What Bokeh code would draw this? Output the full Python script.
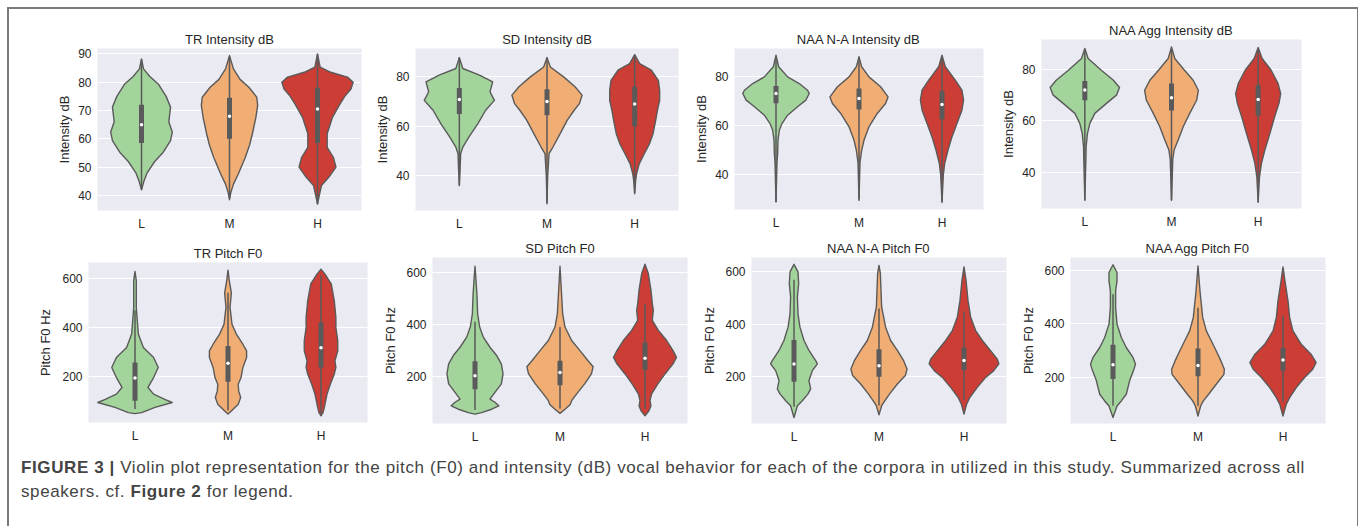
from bokeh.plotting import figure
from bokeh.layouts import row, column
from bokeh.models import Range1d, FixedTicker, Div, Spacer
from bokeh.embed import file_html
from bokeh.resources import INLINE

CATS = ["L", "M", "H"]
COLORS = ["#a2d49c", "#f0ad74", "#cc3d35"]

# ---- TR Intensity dB ----
tr_int_L_val = [42, 45, 48, 52, 55, 59.4, 62.4, 66, 71.2, 75, 79.4, 82, 84.7, 88.2]
tr_int_L_hw = [0, .027, .064, .15, .24, .33, .35, .31, .33, .28, .19, .095, .023, 0]
tr_int_M_val = [38.5, 41, 44, 47.6, 53.5, 58, 61.8, 67.6, 71.8, 74.7, 78.2, 81, 84.7, 89.4]
tr_int_M_hw = [0, .015, .045, .10, .18, .23, .26, .30, .32, .31, .22, .12, .045, 0]
tr_int_H_val = [37, 40, 43.5, 46.5, 50, 53.5, 57, 61.8, 67.6, 72, 75, 77.6, 80, 81.8, 83.5, 85.3, 90]
tr_int_H_hw = [0, .02, .045, .13, .21, .18, .11, .11, .17, .25, .31, .38, .405, .34, .15, .03, 0]
tr_int_box = [[42, 58.5, 65, 72, 88], [39, 60, 68, 74.5, 89], [37, 58.5, 70.5, 78, 90]]

# ---- SD Intensity dB ----
sd_int_L_val = [36, 42, 48.9, 51.6, 55.7, 61, 66.5, 70.5, 74, 78, 80.7, 83.4, 87.8]
sd_int_L_hw = [0, .008, .015, .04, .11, .21, .30, .40, .35, .38, .23, .04, 0]
sd_int_M_val = [28.6, 40, 48.9, 51.6, 57, 62.4, 66.5, 69.2, 72.6, 76, 80, 84, 87.8]
sd_int_M_hw = [0, .008, .023, .068, .15, .23, .31, .37, .40, .32, .19, .038, 0]
sd_int_H_val = [32.7, 38, 41, 44.9, 48.9, 53, 57, 62.4, 66.5, 70.5, 74.6, 78.6, 82.7, 85.4, 89]
sd_int_H_hw = [0, .011, .023, .053, .11, .17, .21, .24, .26, .285, .285, .27, .19, .057, 0]
sd_int_box = [[36, 65, 70.8, 75.5, 88], [29, 64.5, 70, 75, 88], [33, 60, 69, 76, 89]]

# ---- NAA N-A Intensity dB ----
na_int_L_val = [29, 45, 48.6, 54, 58.1, 60.8, 64.2, 67.6, 70.3, 73, 74.3, 77, 79.7, 83.8, 88.5]
na_int_L_hw = [0, .012, .02, .024, .04, .072, .14, .26, .36, .40, .38, .28, .14, .032, 0]
na_int_M_val = [29.7, 45, 50, 54, 59.5, 64.9, 68.9, 71.6, 75.7, 79.7, 83.8, 87.8]
na_int_M_hw = [0, .012, .032, .06, .12, .22, .32, .35, .26, .12, .032, 0]
na_int_H_val = [28.8, 40, 44.6, 50, 55.4, 60.8, 66.2, 70.3, 74.3, 78.4, 83.8, 88.5]
na_int_H_hw = [0, .016, .032, .072, .12, .18, .24, .26, .24, .16, .04, 0]
na_int_box = [[29, 69, 73, 76, 88], [30, 66.5, 71, 75, 88], [29, 62.5, 68.5, 74, 88]]

# ---- NAA Agg Intensity dB ----
ag_int_L_val = [29, 45, 49.9, 55, 59, 62.9, 66.8, 70, 73, 75.8, 79.7, 84.3, 88.2]
ag_int_L_hw = [0, .012, .015, .03, .058, .115, .25, .365, .40, .33, .19, .038, 0]
ag_int_M_val = [29, 45, 48.6, 52.5, 57.7, 62.9, 68, 71.9, 75.8, 79.7, 84.3, 88.8]
ag_int_M_hw = [0, .015, .03, .077, .135, .21, .29, .31, .25, .15, .038, 0]
ag_int_H_val = [28.4, 38, 43.4, 48.6, 55, 61.6, 66.8, 70.6, 74.5, 79.7, 84.3, 88.6]
ag_int_H_hw = [0, .015, .038, .077, .135, .19, .24, .26, .23, .15, .046, 0]
ag_int_box = [[29, 68, 72, 75.5, 88], [29, 64, 69, 74.5, 88], [28, 62, 68.3, 74, 88]]

# ---- TR Pitch F0 ----
tr_f0_L_val = [51, 55, 76, 96, 109, 130, 157, 197, 238, 278, 319, 373, 481, 589, 627]
tr_f0_L_hw = [0, .072, .215, .40, .32, .20, .14, .20, .25, .20, .09, .036, .014, .014, 0]
tr_f0_M_val = [49, 62, 89, 116, 143, 170, 197, 238, 278, 305, 332, 373, 413, 481, 540, 589, 632]
tr_f0_M_hw = [0, .036, .11, .136, .115, .11, .14, .16, .20, .20, .16, .09, .043, .022, .036, .014, 0]
tr_f0_H_val = [42, 55, 76, 103, 130, 170, 211, 238, 265, 305, 346, 400, 440, 508, 576, 616, 636]
tr_f0_H_hw = [0, .022, .036, .05, .065, .10, .143, .16, .15, .18, .18, .16, .16, .143, .11, .043, 0]
tr_f0_box = [[70, 103, 195, 258, 470], [65, 180, 255, 325, 540], [50, 238, 318, 420, 610]]

# ---- SD Pitch F0 ----
sd_f0_L_val = [54, 60, 73, 86, 100, 112, 138, 171, 209, 248, 280, 312, 351, 390, 441, 506, 570, 624]
sd_f0_L_hw = [0, .078, .196, .28, .235, .176, .235, .31, .33, .31, .255, .176, .098, .055, .031, .024, .012, 0]
sd_f0_M_val = [57, 73, 90, 106, 132, 171, 209, 237, 260, 299, 338, 390, 441, 532, 624]
sd_f0_M_hw = [0, .059, .118, .137, .196, .29, .37, .39, .33, .235, .137, .059, .031, .016, 0]
sd_f0_H_val = [48, 67, 86, 106, 132, 170, 209, 248, 273, 299, 338, 377, 416, 454, 480, 532, 596, 632]
sd_f0_H_hw = [0, .047, .07, .059, .078, .149, .235, .33, .37, .33, .255, .157, .086, .098, .086, .07, .039, 0]
sd_f0_box = [[70, 150, 202, 258, 410], [75, 165, 215, 260, 390], [75, 225, 270, 330, 480]]

# ---- NAA N-A Pitch F0 ----
na_f0_L_val = [44, 89, 108, 134, 153, 185, 223, 249, 261, 300, 338, 389, 440, 504, 555, 600, 629]
na_f0_L_hw = [0, .04, .098, .165, .196, .176, .216, .275, .255, .176, .118, .07, .047, .04, .055, .047, 0]
na_f0_M_val = [54, 89, 108, 134, 172, 204, 229, 261, 300, 338, 389, 466, 594, 625]
na_f0_M_hw = [0, .031, .07, .125, .216, .31, .33, .29, .216, .137, .078, .031, .016, 0]
na_f0_H_val = [57, 95, 121, 159, 197, 223, 249, 268, 300, 338, 376, 428, 491, 568, 619]
na_f0_H_hw = [0, .031, .07, .157, .255, .35, .41, .39, .31, .216, .137, .078, .047, .024, 0]
na_f0_box = [[85, 180, 248, 340, 570], [90, 200, 242, 305, 460], [110, 225, 262, 310, 450]]

# ---- NAA Agg Pitch F0 ----
ag_f0_L_val = [51, 94, 113, 138, 163, 188, 225, 250, 275, 312, 349, 399, 461, 523, 560, 591, 620]
ag_f0_L_hw = [0, .047, .098, .156, .176, .195, .24, .265, .235, .156, .098, .047, .031, .031, .047, .047, 0]
ag_f0_M_val = [57, 94, 113, 138, 175, 212, 231, 262, 299, 337, 374, 424, 523, 616]
ag_f0_M_hw = [0, .031, .0625, .125, .215, .305, .31, .27, .215, .156, .098, .055, .023, 0]
ag_f0_H_val = [57, 101, 125, 163, 200, 231, 256, 287, 324, 374, 424, 486, 560, 612]
ag_f0_H_hw = [0, .039, .078, .156, .254, .35, .39, .33, .215, .117, .078, .059, .023, 0]
ag_f0_box = [[95, 195, 248, 322, 510], [95, 205, 245, 308, 460], [110, 225, 265, 310, 430]]

TITLES = ["TR Intensity dB", "SD Intensity dB", "NAA N-A Intensity dB", "NAA Agg Intensity dB",
          "TR Pitch F0", "SD Pitch F0", "NAA N-A Pitch F0", "NAA Agg Pitch F0"]
YLABELS = ["Intensity dB"] * 4 + ["Pitch F0 Hz"] * 4
YTICKS = [[40, 50, 60, 70, 80, 90], [40, 60, 80], [40, 60, 80], [40, 60, 80],
          [200, 400, 600], [200, 400, 600], [200, 400, 600], [200, 400, 600]]
YRANGES = [(34.7, 91.9), (25.9, 91.5), (26.0, 91.2), (25.8, 91.7),
           (15, 663), (18, 658), (21, 655), (29, 647)]

VALS = [
    [tr_int_L_val, tr_int_M_val, tr_int_H_val],
    [sd_int_L_val, sd_int_M_val, sd_int_H_val],
    [na_int_L_val, na_int_M_val, na_int_H_val],
    [ag_int_L_val, ag_int_M_val, ag_int_H_val],
    [tr_f0_L_val, tr_f0_M_val, tr_f0_H_val],
    [sd_f0_L_val, sd_f0_M_val, sd_f0_H_val],
    [na_f0_L_val, na_f0_M_val, na_f0_H_val],
    [ag_f0_L_val, ag_f0_M_val, ag_f0_H_val],
]
HWS = [
    [tr_int_L_hw, tr_int_M_hw, tr_int_H_hw],
    [sd_int_L_hw, sd_int_M_hw, sd_int_H_hw],
    [na_int_L_hw, na_int_M_hw, na_int_H_hw],
    [ag_int_L_hw, ag_int_M_hw, ag_int_H_hw],
    [tr_f0_L_hw, tr_f0_M_hw, tr_f0_H_hw],
    [sd_f0_L_hw, sd_f0_M_hw, sd_f0_H_hw],
    [na_f0_L_hw, na_f0_M_hw, na_f0_H_hw],
    [ag_f0_L_hw, ag_f0_M_hw, ag_f0_H_hw],
]
BOXES = [tr_int_box, sd_int_box, na_int_box, ag_int_box, tr_f0_box, sd_f0_box, na_f0_box, ag_f0_box]

BORDER = 2
# layout per panel: (left, frame_w, right, top, frame_h, bottom)
GEOM = [
    (88, 264, 9, 39, 162, 25),
    (45, 263, 12, 39, 162, 25),
    (44, 249, 12, 39, 161, 26),
    (46, 260, 52, 30, 169, 27),
    (79, 279, 13, 27, 160, 28),
    (50, 255, 12, 22, 166, 27),
    (51, 255, 12, 22, 166, 27),
    (51, 255, 32, 22, 166, 27),
]
LABEL_STANDOFF = [3, 3, 3, 3, 6, 5, 5, 5]

FONT = "Liberation Sans"
TXT = "#262626"
EDGE = "#5a5a5a"


def make_panel(i):
    l, fw, r, t, fh, b = GEOM[i]
    p = figure(frame_width=fw, frame_height=fh, min_border_left=l, min_border_right=r,
               min_border_top=t, min_border_bottom=b,
               x_range=Range1d(-0.5, 2.5), y_range=Range1d(*YRANGES[i]),
               output_backend="svg", toolbar_location=None, title=TITLES[i])
    p.background_fill_color = "#eaeaf2"
    p.border_fill_color = "white"
    p.outline_line_color = None
    p.title.text_font = FONT
    p.title.text_font_size = "13px"
    p.title.text_font_style = "normal"
    p.title.text_color = TXT
    p.title.align = "center"
    p.title.standoff = 3
    p.xgrid.grid_line_color = None
    p.ygrid.grid_line_color = "white"
    p.ygrid.grid_line_width = 1.2
    p.xaxis.ticker = FixedTicker(ticks=[0, 1, 2])
    p.xaxis.major_label_overrides = {k: c for k, c in enumerate(CATS)}
    p.yaxis.ticker = FixedTicker(ticks=YTICKS[i])
    p.yaxis.axis_label = YLABELS[i]
    for ax in (p.xaxis[0], p.yaxis[0]):
        ax.axis_line_color = None
        ax.major_tick_line_color = None
        ax.minor_tick_line_color = None
        ax.major_tick_out = 0
        ax.major_tick_in = 0
        ax.minor_tick_out = 0
        ax.minor_tick_in = 0
        ax.major_label_text_font = FONT
        ax.major_label_text_font_size = "12px"
        ax.major_label_text_color = TXT
        ax.axis_label_text_font = FONT
        ax.axis_label_text_font_size = "13px"
        ax.axis_label_text_font_style = "normal"
        ax.axis_label_text_color = TXT
        ax.major_label_standoff = 6
        ax.axis_label_standoff = LABEL_STANDOFF[i]
    for k in range(3):
        vals = VALS[i][k]
        hws = HWS[i][k]
        xs = [k + w for w in hws] + [k - w for w in reversed(hws)]
        ys = list(vals) + list(reversed(vals))
        p.patch(xs, ys, fill_color=COLORS[k], line_color=EDGE, line_width=1.4,
                line_join="round")
        wlo, q1, med, q3, whi = BOXES[i][k]
        p.segment(x0=[k], y0=[wlo], x1=[k], y1=[whi], line_color=EDGE, line_width=1.5)
        p.segment(x0=[k], y0=[q1], x1=[k], y1=[q3], line_color=EDGE, line_width=5)
        p.scatter([k], [med], size=3.5, fill_color="white", line_color=None)
    return p


panels = [make_panel(i) for i in range(8)]

caption = Div(
    text=('<b>FIGURE 3 |</b> Violin plot representation for the pitch (F0) and intensity (dB) '
          'vocal behavior for each of the corpora in utilized in this study. Summarized across all'
          '<br>speakers. cf. <b>Figure 2</b> for legend.'),
    width=1344, height=76, margin=(0, 0, 0, 0),
    styles={"font-family": "'Liberation Sans', Arial, sans-serif", "font-size": "17px",
            "letter-spacing": "0.6px", "line-height": "24px", "color": "#444444",
            "padding-top": "6px", "padding-left": "12px", "white-space": "nowrap"},
)

row1 = row(*[column(p) for p in panels[:4]])
row2 = row(*[column(p) for p in panels[4:]])
framed = column(row1, row2, caption,
                styles={"border-top": f"{BORDER}px solid #7a7a7a",
                        "border-left": f"{BORDER}px solid #7a7a7a",
                        "border-right": f"{BORDER}px solid #7a7a7a"})
layout = column(Spacer(height=7), row(Spacer(width=7), framed))

open("out.html", "w").write(file_html(layout, INLINE))
